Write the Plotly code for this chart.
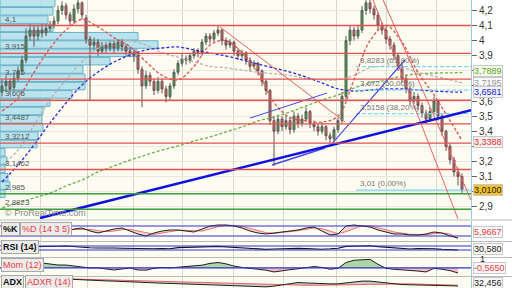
import plotly.graph_objects as go

# ---------------- data ----------------
candle_idx = list(range(116))
open_ = [3.66,3.70,3.73,3.69,3.75,3.80,3.87,4.03,4.07,4.03,
         4.07,4.05,4.08,4.10,4.13,4.20,4.23,4.17,4.13,4.21,
         4.25,4.15,4.01,3.97,3.99,3.93,3.97,3.95,3.98,3.95,
         3.99,3.96,3.93,3.92,3.90,3.81,3.70,3.77,3.73,3.67,
         3.73,3.68,3.63,3.70,3.79,3.85,3.88,3.87,3.90,3.93,
         3.92,3.99,4.03,4.01,4.05,4.07,4.00,3.97,3.99,3.93,
         3.90,3.92,3.87,3.83,3.85,3.80,3.73,3.67,3.47,3.40,
         3.48,3.43,3.47,3.41,3.50,3.45,3.48,3.53,3.45,3.43,
         3.40,3.43,3.37,3.35,3.41,3.47,3.63,4.00,4.07,4.03,
         4.07,4.20,4.25,4.21,4.17,4.10,4.07,4.01,3.97,3.90,
         3.83,3.75,3.68,3.60,3.63,3.57,3.52,3.48,3.53,3.60,
         3.50,3.40,3.30,3.21,3.13,3.10]
high = [3.74,3.77,3.75,3.78,3.83,3.90,4.08,4.11,4.10,4.10,
        4.11,4.11,4.13,4.16,4.23,4.26,4.25,4.19,4.24,4.27,
        4.26,4.17,4.03,4.02,4.01,3.99,3.99,4.00,4.00,4.01,
        4.01,3.98,3.96,3.94,3.92,3.83,3.80,3.79,3.75,3.76,
        3.75,3.70,3.72,3.81,3.87,3.91,3.90,3.92,3.95,3.95,
        4.01,4.05,4.05,4.07,4.10,4.08,4.02,4.01,4.00,3.95,
        3.94,3.93,3.89,3.87,3.86,3.81,3.74,3.68,3.50,3.51,
        3.50,3.50,3.49,3.53,3.52,3.51,3.56,3.54,3.47,3.45,
        3.46,3.44,3.39,3.43,3.49,3.66,4.03,4.10,4.09,4.10,
        4.23,4.27,4.27,4.23,4.19,4.12,4.09,4.03,3.99,3.92,
        3.85,3.77,3.70,3.66,3.65,3.59,3.54,3.56,3.63,3.61,
        3.52,3.41,3.32,3.23,3.16,3.12]
low = [3.63,3.66,3.64,3.67,3.73,3.78,3.85,4.00,3.96,4.00,
       4.02,4.03,4.06,4.08,4.11,4.17,4.14,4.10,4.11,4.18,
       4.14,3.98,3.60,3.94,3.90,3.91,3.92,3.93,3.92,3.93,
       3.93,3.90,3.89,3.86,3.78,3.56,3.68,3.70,3.64,3.65,
       3.65,3.59,3.61,3.68,3.77,3.83,3.84,3.85,3.88,3.89,
       3.90,3.97,3.98,3.99,4.03,3.97,3.94,3.95,3.90,3.87,
       3.88,3.84,3.80,3.81,3.77,3.70,3.64,3.44,3.17,3.38,
       3.40,3.41,3.38,3.39,3.42,3.43,3.46,3.42,3.40,3.37,
       3.38,3.34,3.32,3.33,3.39,3.45,3.61,3.97,4.00,4.01,
       4.05,4.17,4.18,4.14,4.07,4.04,3.98,3.94,3.87,3.80,
       3.72,3.65,3.57,3.58,3.54,3.49,3.45,3.46,3.51,3.47,
       3.37,3.27,3.18,3.10,3.04,2.99]
close = [3.70,3.73,3.68,3.75,3.80,3.87,4.03,4.07,4.03,4.07,
         4.05,4.08,4.10,4.13,4.20,4.23,4.17,4.13,4.21,4.25,
         4.17,4.01,3.97,3.99,3.93,3.97,3.95,3.98,3.95,3.99,
         3.96,3.93,3.92,3.90,3.81,3.70,3.77,3.73,3.67,3.73,
         3.68,3.63,3.70,3.79,3.85,3.88,3.87,3.90,3.93,3.92,
         3.99,4.03,4.01,4.05,4.07,4.00,3.97,3.99,3.93,3.90,
         3.92,3.87,3.83,3.85,3.80,3.73,3.67,3.47,3.40,3.48,
         3.43,3.47,3.41,3.50,3.45,3.48,3.53,3.45,3.43,3.40,
         3.43,3.37,3.35,3.41,3.47,3.63,4.00,4.07,4.03,4.07,
         4.20,4.25,4.21,4.17,4.10,4.07,4.01,3.97,3.90,3.83,
         3.75,3.68,3.60,3.63,3.57,3.52,3.48,3.53,3.60,3.50,
         3.40,3.30,3.21,3.13,3.10,3.01]

# moving averages sampled every 4 sessions
ma_idx = [0,4,8,12,16,20,24,28,32,36,40,44,48,52,56,60,64,68,72,76,
          80,84,88,92,96,100,104,108,112,115]
ma_red = [3.534,3.62,3.79,3.95,4.07,4.14,4.09,4.02,3.96,3.86,
          3.77,3.74,3.83,3.97,4.00,3.92,3.79,3.59,3.49,3.47,
          3.46,3.50,3.74,4.00,4.10,3.99,3.79,3.64,3.47,3.3388]
ma_grey = [3.176,3.275,3.44,3.607,3.74,3.86,3.95,4.00,4.00,3.97,
           3.92,3.89,3.86,3.83,3.82,3.805,3.79,3.78,3.77,3.75,
           3.74,3.74,3.77,3.82,3.83,3.82,3.79,3.765,3.74,3.7195]
ma_blue = [3.064,3.176,3.309,3.454,3.587,3.706,3.792,3.858,3.905,3.938,
           3.951,3.958,3.938,3.918,3.898,3.872,3.845,3.818,3.792,3.759,
           3.72,3.68,3.666,3.673,3.68,3.68,3.673,3.666,3.66,3.6581]
ma_green = [2.891,2.925,2.958,2.99,3.037,3.077,3.13,3.17,3.209,3.242,
            3.275,3.302,3.335,3.362,3.395,3.428,3.468,3.494,3.527,3.567,
            3.607,3.64,3.686,3.719,3.739,3.766,3.779,3.785,3.786,3.7889]

# volume-at-price profile
profile_price = [4.249,4.194,4.139,4.084,4.029,3.974,3.919,3.864,3.809,3.754,
                 3.699,3.644,3.589,3.534,3.479,3.425,3.370,3.315,3.260,3.205,
                 3.150,3.095,3.040,2.985]
profile_volume = [55,53,48,53,138,158,137,110,83,85,
                  85,72,50,43,42,43,38,37,5,7,
                  5,8,10,5]

# horizontal levels
support_red = [4.1, 3.915, 3.745, 3.605, 3.4487, 3.3212, 3.1462]
support_red_labels = ["4,1", "3,915", "3,745", "3,605", "3,4487", "3,3212", "3,1462"]
support_green = [2.985, 2.8823]
support_green_labels = ["2,985", "2,8823"]

fib_levels = [3.8283, 3.672, 3.5158, 3.01]
fib_labels = ["3,8283 (61,80%)", "3,672 (50,00%)", "3,5158 (38,20%)", "3,01 (0,00%)"]
fib_start = 88.5

# drawn trend lines (session index, price)
thick_blue_x, thick_blue_y = [9.5, 117.25], [2.825, 3.539]
blue_a_x, blue_a_y = [62, 81.25], [3.487, 3.653]
blue_b_x, blue_b_y = [67.5, 80.75], [3.176, 3.289]
blue_c_x, blue_c_y = [82, 100.75], [3.302, 3.872]
red_a_x, red_a_y = [54.5, 85.75], [4.09, 3.461]
red_b_x, red_b_y = [92.75, 114], [4.269, 2.819]
red_c_x, red_c_y = [95.25, 117.25], [4.269, 2.944]

month_starts = [9.5, 21.25, 32.75, 45, 57.75, 70.25, 83.5, 96, 108.5]

# indicators sampled every 2 sessions
ind_idx = list(range(8, 116, 2))
stoch_k = [56,62,62,68,44,62,68,50,38,50,62,68,50,32,20,38,50,56,56,50,
           44,62,80,86,86,80,68,50,38,32,38,44,50,56,68,74,50,26,32,80,
           86,80,74,56,44,32,32,26,26,32,44,38,20,8]
stoch_d = [58,60,62,64,58,58,62,60,52,46,50,58,60,50,36,30,38,48,54,54,
           50,50,62,76,84,84,78,66,52,40,36,40,46,52,60,68,64,48,34,46,
           66,82,80,70,58,44,36,30,28,28,34,38,32,6]
rsi = [62,66,64,68,70,62,60,52,50,52,50,48,46,40,38,42,44,42,54,58,
       60,62,64,66,62,58,52,48,44,36,40,44,42,46,44,40,38,42,48,66,
       70,68,72,64,58,50,46,40,44,46,42,36,32,30.58]
mom = [0.66,0.54,0.43,0.32,0.32,0.21,0.10,-0.01,0.0,-0.12,
       -0.23,-0.12,-0.01,-0.23,-0.25,-0.05,0.05,0.0,0.08,0.2,
       0.25,0.3,0.5,0.6,0.45,0.2,0.05,-0.05,-0.1,-0.25,
       -0.45,-0.3,-0.2,-0.1,0.05,0.15,0.05,-0.15,-0.05,0.6,
       0.85,0.9,0.95,0.4,-0.05,-0.15,-0.2,-0.25,-0.35,-0.45,
       -0.05,-0.15,-0.3,-0.565]
adx = [51,50,49.5,49,48,47,46,45,44,43.5,43,42,41,40.5,40,39,38.5,38,37,36.5,
       36,35.5,35,34.5,34,33,32,31,30.5,30.5,32,35,38,40,39,38,38,37,37,39,
       42,43,43,41,39,37,35.5,35,34.5,34,33.5,33,32.6,32.456]
adxr = [50,49.5,49,48.5,48,47.5,47,46.5,46,45.5,45,44.5,44,43.5,43,42,41.5,41,40.5,40,
        39.5,39,38.5,38,37.5,37,36.5,36,35.5,35,34.5,34,34,34,34,34,34,34,34,34.5,
        35,35.5,36,36.5,37,37,37,37,36.5,36,35.5,35,34.5,34]

# ---------------- figure ----------------
W, H = 512, 288
FONT = "Liberation Sans, Arial, sans-serif"
XR = [-0.5, 117.25]
profile_scale = 0.25

fig = go.Figure()

# volume profile (bar layer sits below the candles)
fig.add_trace(go.Bar(
    y=profile_price, x=[v * profile_scale for v in profile_volume],
    base=[XR[0]] * len(profile_volume),
    orientation="h", width=[0.05] * len(profile_volume),
    marker=dict(color="rgba(178,224,236,0.9)", line=dict(color="#68b2c6", width=1)),
    xaxis="x", yaxis="y", hoverinfo="skip"))

dash = "3px,2px"
for vals, col in [(ma_green, "#6ab04c"), (ma_grey, "#b4b4b4"), (ma_blue, "#2a2ad8"), (ma_red, "#e05050")]:
    fig.add_trace(go.Scatter(x=ma_idx, y=vals, mode="lines",
                             line=dict(color=col, width=1.3, dash=dash, shape="spline"),
                             xaxis="x", yaxis="y", hoverinfo="skip"))

# fibonacci lines
for lv in fib_levels:
    fig.add_trace(go.Scatter(x=[fib_start, XR[1]], y=[lv, lv], mode="lines",
                             line=dict(color="#7fd3f2", width=1.2,
                                       dash="solid" if lv == fib_levels[-1] else "4px,2px"),
                             xaxis="x", yaxis="y", hoverinfo="skip"))

# trend lines
for xs, ys, col, w in [(red_a_x, red_a_y, "#e86060", 1), (red_b_x, red_b_y, "#e86060", 1),
                       (red_c_x, red_c_y, "#e86060", 1), (blue_a_x, blue_a_y, "#4a4ae0", 1),
                       (blue_b_x, blue_b_y, "#4a4ae0", 1.6), (blue_c_x, blue_c_y, "#3030e0", 1.1),
                       (thick_blue_x, thick_blue_y, "#1010e0", 2.6)]:
    fig.add_trace(go.Scatter(x=xs, y=ys, mode="lines", line=dict(color=col, width=w),
                             xaxis="x", yaxis="y", hoverinfo="skip"))

fig.add_trace(go.Candlestick(
    x=candle_idx, open=open_, high=high, low=low, close=close,
    increasing=dict(line=dict(color="#5a5a5a", width=1), fillcolor="#3da53d"),
    decreasing=dict(line=dict(color="#6a5050", width=1), fillcolor="#d06a6a"),
    xaxis="x", yaxis="y", hoverinfo="skip"))

# stochastic
fig.add_trace(go.Scatter(x=ind_idx, y=stoch_d, mode="lines", line=dict(color="#e87070", width=1),
                         xaxis="x", yaxis="y2", hoverinfo="skip"))
fig.add_trace(go.Scatter(x=ind_idx, y=stoch_k, mode="lines", line=dict(color="#202020", width=1),
                         fill="tonexty", fillcolor="rgba(230,150,160,0.35)",
                         xaxis="x", yaxis="y2", hoverinfo="skip"))
# RSI
fig.add_trace(go.Scatter(x=ind_idx, y=rsi, mode="lines", line=dict(color="#101010", width=1.1),
                         xaxis="x", yaxis="y3", hoverinfo="skip"))
# momentum
mom_pos = [max(v, 0) for v in mom]
mom_neg = [min(v, 0) for v in mom]
fig.add_trace(go.Scatter(x=ind_idx, y=mom_pos, mode="lines", line=dict(width=0),
                         fill="tozeroy", fillcolor="rgba(120,190,110,0.6)",
                         xaxis="x", yaxis="y4", hoverinfo="skip"))
fig.add_trace(go.Scatter(x=ind_idx, y=mom_neg, mode="lines", line=dict(width=0),
                         fill="tozeroy", fillcolor="rgba(235,140,140,0.55)",
                         xaxis="x", yaxis="y4", hoverinfo="skip"))
fig.add_trace(go.Scatter(x=ind_idx, y=mom, mode="lines", line=dict(color="#202020", width=1),
                         xaxis="x", yaxis="y4", hoverinfo="skip"))
# ADX / ADXR
fig.add_trace(go.Scatter(x=ind_idx, y=adxr, mode="lines", line=dict(color="#e86060", width=1),
                         xaxis="x", yaxis="y5", hoverinfo="skip"))
fig.add_trace(go.Scatter(x=ind_idx, y=adx, mode="lines", line=dict(color="#202020", width=1),
                         fill="tonexty", fillcolor="rgba(150,140,170,0.45)",
                         xaxis="x", yaxis="y5", hoverinfo="skip"))

def py(px):
    return 1 - px / H

xdom = [0, 471 / W]
dom_main = [py(219), 1]
dom_st = [py(241), py(221)]
dom_rsi = [py(257), py(242)]
dom_mom = [py(276), py(258)]
dom_adx = [0, py(277)]

ticks = [2.9, 3.0, 3.1, 3.2, 3.3, 3.4, 3.5, 3.6, 3.7, 3.8, 3.9, 4.0, 4.1, 4.2]
hidden_ticks = [3.0, 3.3, 3.7, 3.8]  # covered by value boxes
tick_text = ["" if t in hidden_ticks else ("%g" % t).replace(".", ",") for t in ticks]

sub_axis = dict(showgrid=False, showticklabels=False, zeroline=False, ticks="",
                showline=True, linecolor="#9cc8dc", side="right", anchor="x")

fig.update_layout(
    width=W, height=H, margin=dict(l=0, r=0, t=0, b=0),
    paper_bgcolor="#ffffff", plot_bgcolor="#fcfcf0",
    showlegend=False, font=dict(family=FONT, size=10, color="#333"),
    barmode="overlay",
    xaxis=dict(domain=xdom, range=XR, tickvals=month_starts, showticklabels=False,
               showgrid=True, gridcolor="#d6d6d6", gridwidth=1, zeroline=False, ticks="",
               rangeslider=dict(visible=False), anchor="y"),
    yaxis=dict(domain=dom_main, range=[2.8185, 4.2689], side="right", anchor="x",
               tickvals=ticks, ticktext=tick_text, showgrid=True, gridcolor="#e8e8e0",
               ticks="outside", ticklen=5, tickcolor="#666", zeroline=False,
               tickfont=dict(size=10, color="#333"),
               showline=True, linecolor="#9cc8dc"),
    yaxis2=dict(domain=dom_st, range=[-10, 110], **sub_axis),
    yaxis3=dict(domain=dom_rsi, range=[-40, 110], **sub_axis),
    yaxis4=dict(domain=dom_mom, range=[-0.9, 1.1], **sub_axis),
    yaxis5=dict(domain=dom_adx, range=[28, 52], **sub_axis),
)

shapes = []
for lv in support_red:
    shapes.append(dict(type="line", xref="x domain", yref="y", x0=0, x1=1, y0=lv, y1=lv,
                       line=dict(color="#e65050", width=1.3)))
for lv in support_green:
    shapes.append(dict(type="line", xref="x domain", yref="y", x0=0, x1=1, y0=lv, y1=lv,
                       line=dict(color="#3a9e3a", width=1.5)))
for lv, ax in [(80, "y2"), (20, "y2"), (70, "y3"), (30, "y3"), (0, "y4")]:
    shapes.append(dict(type="line", xref="x domain", yref=ax, x0=0, x1=1, y0=lv, y1=lv,
                       line=dict(color="#3030d8", width=1.2)))
for ypx in [220, 241.5, 257.5, 276.5]:
    shapes.append(dict(type="line", xref="paper", yref="paper", x0=0, x1=1, y0=py(ypx), y1=py(ypx),
                       line=dict(color="#b8b8b8", width=1)))
fig.update_layout(shapes=shapes)

ann = []
for lv, t in list(zip(support_red, support_red_labels)) + list(zip(support_green, support_green_labels)):
    ann.append(dict(xref="paper", yref="y", x=3 / W, y=lv, text=t, showarrow=False,
                    xanchor="left", yanchor="bottom", yshift=0,
                    font=dict(size=8, color="#555")))
for lv, t in zip(fib_levels, fib_labels):
    ann.append(dict(xref="x", yref="y", x=fib_start + 0.5, y=lv, text=t, showarrow=False,
                    xanchor="left", yanchor="bottom", yshift=0,
                    font=dict(size=8, color="#777")))
ann.append(dict(xref="paper", yref="paper", x=3 / W, y=py(213), text="© ProRealTime.com",
                showarrow=False, xanchor="left", yanchor="middle", font=dict(size=9, color="#888")))

xr = 473 / W
for lv, t, fc, bg, ys in [(3.7889, "3,7889", "#55aa22", "#f6fbee", 1),
                          (3.7195, "3,7195", "#999999", "#f8f8f8", 0),
                          (3.6581, "3,6581", "#2222cc", "#f2f4fc", 0),
                          (3.3388, "3,3388", "#e03030", "#fbf0f0", -2),
                          (3.01, "3,0100", "#222222", "#f2c12e", 0)]:
    ann.append(dict(xref="paper", yref="y", x=xr, y=lv, text=t, showarrow=False,
                    xanchor="left", yanchor="middle", yshift=ys, bgcolor=bg, bordercolor="#c8c8c8",
                    borderwidth=1, borderpad=0, font=dict(size=9, color=fc)))

for ypx, t, fc in [(232, "5,9667", "#e04040"), (249, "30,580", "#222222"),
                   (268, "-0,5650", "#e04040"), (283, "32,456", "#222222")]:
    ann.append(dict(xref="paper", yref="paper", x=xr, y=py(ypx), text=t, showarrow=False,
                    xanchor="left", yanchor="middle", bgcolor="#f8f8f8", bordercolor="#c8c8c8",
                    borderwidth=1, borderpad=0, font=dict(size=9, color=fc)))
ann.append(dict(xref="paper", yref="paper", x=478 / W, y=py(258.5), text="1", showarrow=False,
                xanchor="left", yanchor="middle", font=dict(size=9, color="#222")))

lab = dict(xref="paper", yref="paper", showarrow=False, xanchor="left", yanchor="middle",
           bgcolor="#ececec", bordercolor="#a8a8a8", borderwidth=1, borderpad=1)
ann.append(dict(x=1 / W, y=py(228.5), text="<b>%K</b>", font=dict(size=9, color="#111"), **lab))
ann.append(dict(x=20 / W, y=py(228.5), text="%D (14 3 5)", font=dict(size=9, color="#e04040"), **lab))
ann.append(dict(x=1 / W, y=py(247), text="<b>RSI (14)</b>", font=dict(size=9, color="#111"), **lab))
ann.append(dict(x=1 / W, y=py(265), text="Mom (12)", font=dict(size=9, color="#e04040"), **lab))
ann.append(dict(x=1 / W, y=py(282), text="<b>ADX</b>", font=dict(size=9, color="#111"), **lab))
ann.append(dict(x=25 / W, y=py(282), text="ADXR (14)", font=dict(size=9, color="#e04040"), **lab))

fig.update_layout(annotations=ann)
fig.write_html("out.html")
